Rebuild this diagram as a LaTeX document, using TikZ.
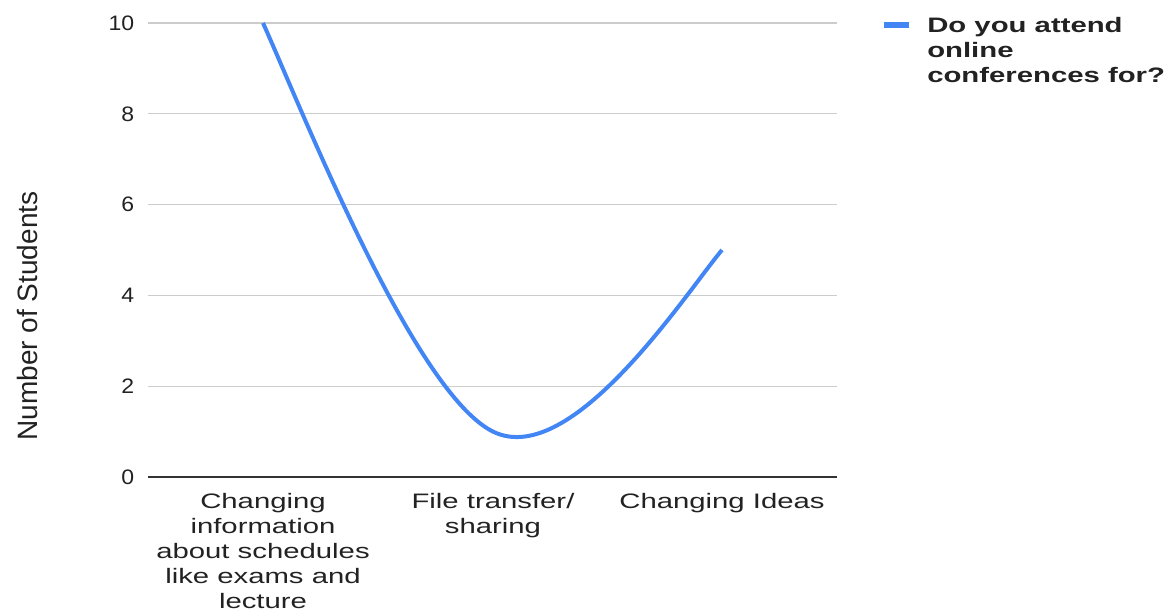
\documentclass[tikz,border=0pt]{standalone}
\usepackage{fontspec}
\setmainfont{Liberation Sans}
\newfontfamily\widefont[FakeStretch=1.4]{Liberation Sans}
\newfontfamily\tickfont[FakeStretch=1.1]{Liberation Sans}
\definecolor{gridc}{HTML}{CCCCCC}
\definecolor{basec}{HTML}{333333}
\definecolor{serc}{HTML}{4285F4}
\definecolor{txtc}{HTML}{222222}
\begin{document}
\begin{tikzpicture}[x=0.75pt,y=-0.75pt,
  grid/.style={draw=gridc,line width=1pt},
  base/.style={draw=basec,line width=1.3pt},
  series/.style={draw=serc,line width=3pt},
  ticklab/.style={anchor=east,font=\tickfont\fontsize{15.7}{18}\selectfont,text=txtc,inner sep=0pt},
  catlab/.style={anchor=north,align=center,font=\widefont\fontsize{15.7}{18.75}\selectfont,text=txtc,inner sep=0pt},
  leglab/.style={anchor=north west,align=left,font=\widefont\fontsize{15.7}{18.5}\selectfont\bfseries,text=txtc,inner sep=0pt}]
\useasboundingbox (0,0) rectangle (1169,613);
% gridlines
\foreach \v/\n in {10/g10,8/g8,6/g6,4/g4,2/g2}{
  \coordinate (\n L) at (148,{477-45.4*\v});
  \coordinate (\n R) at (837,{477-45.4*\v});
  \draw[grid] (\n L) -- (\n R);
  \node[ticklab] (t\n) at (134.5,{477-45.4*\v}) {\v};
}
\coordinate (bL) at (148,477);
\coordinate (bR) at (837,477);
\draw[base] (bL) -- (bR);
\node[ticklab] (t0) at (134.5,477) {0};
% series
\coordinate (p0) at (263,23);
\coordinate (p1) at (493,431.6);
\coordinate (p2) at (722,250);
\draw[series] (p0) .. controls (300,105) and (413,392) .. (p1)
              .. controls (572,470.5) and (688,290) .. (p2);
% category labels
\node[catlab] (c1) at (263,493.5) {Changing\\information\\about schedules\\like exams and\\lecture};
\node[catlab] (c2) at (493,493.5) {File transfer/\\sharing};
\node[catlab] (c3) at (722,493.5) {Changing Ideas};
% axis title
\node[rotate=90,font=\fontsize{21}{24}\selectfont,text=txtc,inner sep=0pt] (yt) at (27,316) {Number of Students};
% legend
\coordinate (lA) at (884,25);
\coordinate (lB) at (909,25);
\draw[series,line width=5pt] (lA) -- (lB);
\node[leglab] (lt) at (927,17.5) {Do you attend\\online\\conferences for?};
\end{tikzpicture}
\end{document}
